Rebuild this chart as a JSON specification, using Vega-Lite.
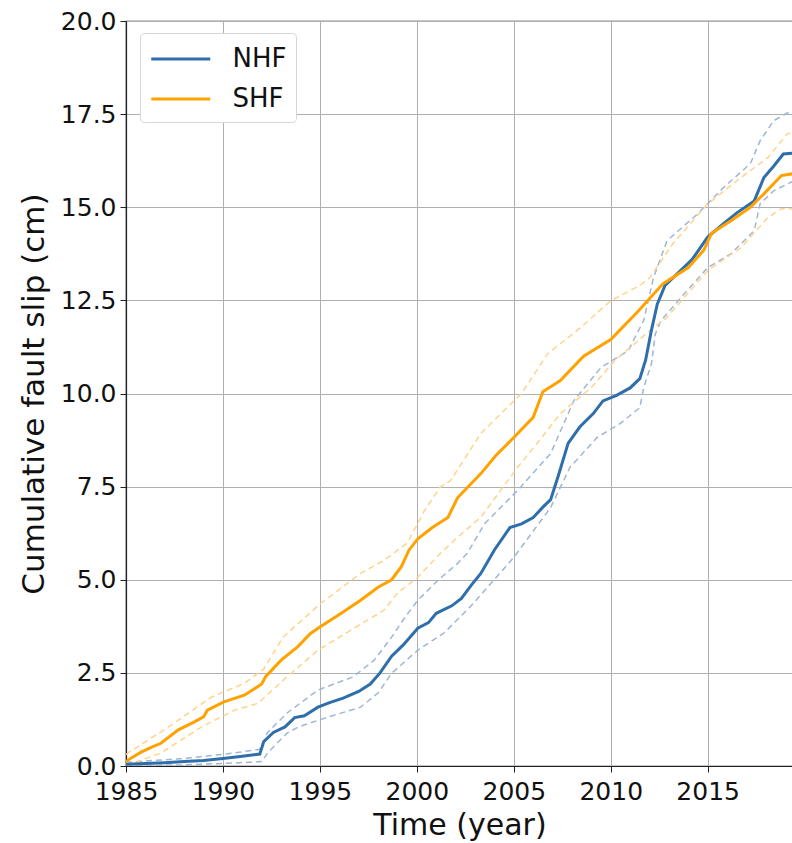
{
  "$schema": "https://vega.github.io/schema/vega-lite/v6.json",
  "width": 667,
  "height": 745,
  "autosize": {"type": "none"},
  "padding": {"left": 126, "top": 21, "right": 0, "bottom": 77},
  "background": "white",
  "config": {
    "view": {"stroke": "#222222", "strokeWidth": 1.2},
    "font": "DejaVu Sans",
    "axis": {
      "labelFont": "DejaVu Sans",
      "labelFontSize": 25,
      "labelColor": "#111111",
      "labelFlush": false,
      "labelOverlap": false,
      "titleFont": "DejaVu Sans",
      "titleFontWeight": "normal",
      "titleColor": "#111111",
      "tickColor": "#222222",
      "tickSize": 6,
      "domainColor": "#222222",
      "domainWidth": 1.2,
      "gridColor": "#b0b0b0",
      "gridWidth": 1,
      "labelPadding": 4
    },
    "legend": {
      "labelFont": "DejaVu Sans"
    }
  },
  "datasets": {
    "main": [
      {"series": "NHF", "year": 1985.0, "slip": 0.05},
      {"series": "NHF", "year": 1986.0, "slip": 0.07},
      {"series": "NHF", "year": 1987.0, "slip": 0.09},
      {"series": "NHF", "year": 1988.0, "slip": 0.12},
      {"series": "NHF", "year": 1989.0, "slip": 0.15},
      {"series": "NHF", "year": 1990.0, "slip": 0.2},
      {"series": "NHF", "year": 1991.0, "slip": 0.26},
      {"series": "NHF", "year": 1991.9, "slip": 0.32},
      {"series": "NHF", "year": 1992.1, "slip": 0.65},
      {"series": "NHF", "year": 1992.6, "slip": 0.9},
      {"series": "NHF", "year": 1993.2, "slip": 1.05},
      {"series": "NHF", "year": 1993.7, "slip": 1.3},
      {"series": "NHF", "year": 1994.2, "slip": 1.35},
      {"series": "NHF", "year": 1994.9, "slip": 1.58},
      {"series": "NHF", "year": 1995.5, "slip": 1.7},
      {"series": "NHF", "year": 1996.2, "slip": 1.82},
      {"series": "NHF", "year": 1997.0, "slip": 2.0},
      {"series": "NHF", "year": 1997.6, "slip": 2.2},
      {"series": "NHF", "year": 1998.1, "slip": 2.5},
      {"series": "NHF", "year": 1998.7, "slip": 2.95},
      {"series": "NHF", "year": 1999.3, "slip": 3.25},
      {"series": "NHF", "year": 2000.05, "slip": 3.7},
      {"series": "NHF", "year": 2000.6, "slip": 3.85},
      {"series": "NHF", "year": 2001.0, "slip": 4.1},
      {"series": "NHF", "year": 2001.8, "slip": 4.3},
      {"series": "NHF", "year": 2002.3, "slip": 4.5},
      {"series": "NHF", "year": 2002.8, "slip": 4.85},
      {"series": "NHF", "year": 2003.3, "slip": 5.17},
      {"series": "NHF", "year": 2004.0, "slip": 5.8},
      {"series": "NHF", "year": 2004.8, "slip": 6.4},
      {"series": "NHF", "year": 2005.4, "slip": 6.5},
      {"series": "NHF", "year": 2006.0, "slip": 6.67},
      {"series": "NHF", "year": 2006.5, "slip": 6.95},
      {"series": "NHF", "year": 2006.9, "slip": 7.15},
      {"series": "NHF", "year": 2007.3, "slip": 7.8},
      {"series": "NHF", "year": 2007.8, "slip": 8.66},
      {"series": "NHF", "year": 2008.4, "slip": 9.1},
      {"series": "NHF", "year": 2009.1, "slip": 9.46},
      {"series": "NHF", "year": 2009.6, "slip": 9.8},
      {"series": "NHF", "year": 2010.3, "slip": 9.95},
      {"series": "NHF", "year": 2011.0, "slip": 10.15},
      {"series": "NHF", "year": 2011.5, "slip": 10.4},
      {"series": "NHF", "year": 2011.8, "slip": 10.9},
      {"series": "NHF", "year": 2012.1, "slip": 11.7},
      {"series": "NHF", "year": 2012.4, "slip": 12.4},
      {"series": "NHF", "year": 2012.8, "slip": 12.9},
      {"series": "NHF", "year": 2013.6, "slip": 13.3},
      {"series": "NHF", "year": 2014.2, "slip": 13.6},
      {"series": "NHF", "year": 2015.0, "slip": 14.2},
      {"series": "NHF", "year": 2015.8, "slip": 14.55},
      {"series": "NHF", "year": 2016.5, "slip": 14.85},
      {"series": "NHF", "year": 2017.4, "slip": 15.17},
      {"series": "NHF", "year": 2017.9, "slip": 15.8},
      {"series": "NHF", "year": 2018.4, "slip": 16.1},
      {"series": "NHF", "year": 2018.9, "slip": 16.43},
      {"series": "NHF", "year": 2019.4, "slip": 16.45},
      {"series": "SHF", "year": 1985.0, "slip": 0.1},
      {"series": "SHF", "year": 1985.1, "slip": 0.16},
      {"series": "SHF", "year": 1985.8, "slip": 0.38},
      {"series": "SHF", "year": 1986.3, "slip": 0.5},
      {"series": "SHF", "year": 1986.8, "slip": 0.61},
      {"series": "SHF", "year": 1987.7, "slip": 0.97},
      {"series": "SHF", "year": 1988.4, "slip": 1.15},
      {"series": "SHF", "year": 1989.0, "slip": 1.32},
      {"series": "SHF", "year": 1989.2, "slip": 1.5},
      {"series": "SHF", "year": 1990.05, "slip": 1.72},
      {"series": "SHF", "year": 1991.1, "slip": 1.9},
      {"series": "SHF", "year": 1991.7, "slip": 2.1},
      {"series": "SHF", "year": 1992.0, "slip": 2.2},
      {"series": "SHF", "year": 1992.2, "slip": 2.4},
      {"series": "SHF", "year": 1993.0, "slip": 2.84},
      {"series": "SHF", "year": 1993.85, "slip": 3.2},
      {"series": "SHF", "year": 1994.5, "slip": 3.55},
      {"series": "SHF", "year": 1995.0, "slip": 3.73},
      {"series": "SHF", "year": 1996.1, "slip": 4.1},
      {"series": "SHF", "year": 1997.1, "slip": 4.45},
      {"series": "SHF", "year": 1998.0, "slip": 4.8},
      {"series": "SHF", "year": 1998.7, "slip": 5.0},
      {"series": "SHF", "year": 1999.2, "slip": 5.35},
      {"series": "SHF", "year": 1999.6, "slip": 5.8},
      {"series": "SHF", "year": 2000.05, "slip": 6.1},
      {"series": "SHF", "year": 2000.8, "slip": 6.4},
      {"series": "SHF", "year": 2001.6, "slip": 6.67},
      {"series": "SHF", "year": 2002.1, "slip": 7.2},
      {"series": "SHF", "year": 2003.3, "slip": 7.85},
      {"series": "SHF", "year": 2004.1, "slip": 8.35},
      {"series": "SHF", "year": 2005.0, "slip": 8.82},
      {"series": "SHF", "year": 2006.0, "slip": 9.36},
      {"series": "SHF", "year": 2006.5, "slip": 10.05},
      {"series": "SHF", "year": 2007.4, "slip": 10.35},
      {"series": "SHF", "year": 2008.6, "slip": 11.0},
      {"series": "SHF", "year": 2010.0, "slip": 11.45},
      {"series": "SHF", "year": 2011.4, "slip": 12.2},
      {"series": "SHF", "year": 2012.7, "slip": 12.95},
      {"series": "SHF", "year": 2014.0, "slip": 13.38},
      {"series": "SHF", "year": 2014.8, "slip": 13.85},
      {"series": "SHF", "year": 2015.2, "slip": 14.3},
      {"series": "SHF", "year": 2016.2, "slip": 14.64},
      {"series": "SHF", "year": 2017.2, "slip": 15.0},
      {"series": "SHF", "year": 2017.9, "slip": 15.36},
      {"series": "SHF", "year": 2018.8, "slip": 15.85},
      {"series": "SHF", "year": 2019.4, "slip": 15.9}
    ],
    "bounds": [
      {"series": "NHF", "bound": "upper", "year": 1985.0, "slip": 0.1},
      {"series": "NHF", "bound": "upper", "year": 1988.0, "slip": 0.2},
      {"series": "NHF", "bound": "upper", "year": 1990.6, "slip": 0.35},
      {"series": "NHF", "bound": "upper", "year": 1991.9, "slip": 0.45},
      {"series": "NHF", "bound": "upper", "year": 1992.3, "slip": 0.9},
      {"series": "NHF", "bound": "upper", "year": 1993.3, "slip": 1.42},
      {"series": "NHF", "bound": "upper", "year": 1994.9, "slip": 2.04},
      {"series": "NHF", "bound": "upper", "year": 1996.7, "slip": 2.39},
      {"series": "NHF", "bound": "upper", "year": 1997.8, "slip": 2.84},
      {"series": "NHF", "bound": "upper", "year": 1998.7, "slip": 3.46},
      {"series": "NHF", "bound": "upper", "year": 1999.4, "slip": 4.0},
      {"series": "NHF", "bound": "upper", "year": 2000.05, "slip": 4.45},
      {"series": "NHF", "bound": "upper", "year": 2001.1, "slip": 4.99},
      {"series": "NHF", "bound": "upper", "year": 2002.1, "slip": 5.44},
      {"series": "NHF", "bound": "upper", "year": 2002.6, "slip": 5.71},
      {"series": "NHF", "bound": "upper", "year": 2003.5, "slip": 6.51},
      {"series": "NHF", "bound": "upper", "year": 2005.2, "slip": 7.4},
      {"series": "NHF", "bound": "upper", "year": 2006.9, "slip": 8.39},
      {"series": "NHF", "bound": "upper", "year": 2008.1, "slip": 9.81},
      {"series": "NHF", "bound": "upper", "year": 2009.5, "slip": 10.7},
      {"series": "NHF", "bound": "upper", "year": 2010.9, "slip": 11.15},
      {"series": "NHF", "bound": "upper", "year": 2011.7, "slip": 11.96},
      {"series": "NHF", "bound": "upper", "year": 2012.2, "slip": 13.1},
      {"series": "NHF", "bound": "upper", "year": 2012.9, "slip": 14.1},
      {"series": "NHF", "bound": "upper", "year": 2014.5, "slip": 14.83},
      {"series": "NHF", "bound": "upper", "year": 2015.8, "slip": 15.52},
      {"series": "NHF", "bound": "upper", "year": 2017.2, "slip": 16.17},
      {"series": "NHF", "bound": "upper", "year": 2017.7, "slip": 16.78},
      {"series": "NHF", "bound": "upper", "year": 2018.4, "slip": 17.32},
      {"series": "NHF", "bound": "upper", "year": 2019.1, "slip": 17.53},
      {"series": "NHF", "bound": "upper", "year": 2019.4, "slip": 17.55},
      {"series": "NHF", "bound": "lower", "year": 1985.0, "slip": 0.0},
      {"series": "NHF", "bound": "lower", "year": 1988.0, "slip": 0.03},
      {"series": "NHF", "bound": "lower", "year": 1990.6, "slip": 0.08},
      {"series": "NHF", "bound": "lower", "year": 1992.0, "slip": 0.12},
      {"series": "NHF", "bound": "lower", "year": 1992.3, "slip": 0.35},
      {"series": "NHF", "bound": "lower", "year": 1993.3, "slip": 0.88},
      {"series": "NHF", "bound": "lower", "year": 1993.9, "slip": 1.05},
      {"series": "NHF", "bound": "lower", "year": 1995.4, "slip": 1.31},
      {"series": "NHF", "bound": "lower", "year": 1997.1, "slip": 1.58},
      {"series": "NHF", "bound": "lower", "year": 1998.0, "slip": 1.96},
      {"series": "NHF", "bound": "lower", "year": 1998.7, "slip": 2.49},
      {"series": "NHF", "bound": "lower", "year": 2000.05, "slip": 3.11},
      {"series": "NHF", "bound": "lower", "year": 2001.4, "slip": 3.57},
      {"series": "NHF", "bound": "lower", "year": 2002.8, "slip": 4.3},
      {"series": "NHF", "bound": "lower", "year": 2005.0, "slip": 5.6},
      {"series": "NHF", "bound": "lower", "year": 2006.9, "slip": 6.94},
      {"series": "NHF", "bound": "lower", "year": 2007.9, "slip": 8.02},
      {"series": "NHF", "bound": "lower", "year": 2009.3, "slip": 8.82},
      {"series": "NHF", "bound": "lower", "year": 2010.5, "slip": 9.2},
      {"series": "NHF", "bound": "lower", "year": 2011.5, "slip": 9.62},
      {"series": "NHF", "bound": "lower", "year": 2011.7, "slip": 10.16},
      {"series": "NHF", "bound": "lower", "year": 2012.1, "slip": 10.8},
      {"series": "NHF", "bound": "lower", "year": 2012.3, "slip": 11.6},
      {"series": "NHF", "bound": "lower", "year": 2012.6, "slip": 11.96},
      {"series": "NHF", "bound": "lower", "year": 2013.8, "slip": 12.68},
      {"series": "NHF", "bound": "lower", "year": 2015.0, "slip": 13.38},
      {"series": "NHF", "bound": "lower", "year": 2016.2, "slip": 13.75},
      {"series": "NHF", "bound": "lower", "year": 2017.4, "slip": 14.37},
      {"series": "NHF", "bound": "lower", "year": 2017.7, "slip": 15.09},
      {"series": "NHF", "bound": "lower", "year": 2018.4, "slip": 15.44},
      {"series": "NHF", "bound": "lower", "year": 2019.4, "slip": 15.7},
      {"series": "SHF", "bound": "upper", "year": 1985.0, "slip": 0.3},
      {"series": "SHF", "bound": "upper", "year": 1985.1, "slip": 0.35},
      {"series": "SHF", "bound": "upper", "year": 1987.2, "slip": 1.05},
      {"series": "SHF", "bound": "upper", "year": 1989.4, "slip": 1.85},
      {"series": "SHF", "bound": "upper", "year": 1991.1, "slip": 2.22},
      {"series": "SHF", "bound": "upper", "year": 1992.1, "slip": 2.6},
      {"series": "SHF", "bound": "upper", "year": 1993.1, "slip": 3.46},
      {"series": "SHF", "bound": "upper", "year": 1995.05, "slip": 4.37},
      {"series": "SHF", "bound": "upper", "year": 1997.1, "slip": 5.17},
      {"series": "SHF", "bound": "upper", "year": 1998.3, "slip": 5.52},
      {"series": "SHF", "bound": "upper", "year": 1999.5, "slip": 5.98},
      {"series": "SHF", "bound": "upper", "year": 2000.4, "slip": 6.86},
      {"series": "SHF", "bound": "upper", "year": 2001.2, "slip": 7.48},
      {"series": "SHF", "bound": "upper", "year": 2001.75, "slip": 7.67},
      {"series": "SHF", "bound": "upper", "year": 2003.3, "slip": 8.93},
      {"series": "SHF", "bound": "upper", "year": 2005.4, "slip": 10.0},
      {"series": "SHF", "bound": "upper", "year": 2006.75, "slip": 11.07},
      {"series": "SHF", "bound": "upper", "year": 2008.45, "slip": 11.77},
      {"series": "SHF", "bound": "upper", "year": 2010.0, "slip": 12.49},
      {"series": "SHF", "bound": "upper", "year": 2011.5, "slip": 12.9},
      {"series": "SHF", "bound": "upper", "year": 2012.0, "slip": 13.1},
      {"series": "SHF", "bound": "upper", "year": 2013.2, "slip": 14.02},
      {"series": "SHF", "bound": "upper", "year": 2015.0, "slip": 15.09},
      {"series": "SHF", "bound": "upper", "year": 2016.7, "slip": 15.79},
      {"series": "SHF", "bound": "upper", "year": 2018.1, "slip": 16.33},
      {"series": "SHF", "bound": "upper", "year": 2019.1, "slip": 16.97},
      {"series": "SHF", "bound": "upper", "year": 2019.4, "slip": 17.0},
      {"series": "SHF", "bound": "lower", "year": 1985.0, "slip": 0.0},
      {"series": "SHF", "bound": "lower", "year": 1985.4, "slip": 0.08},
      {"series": "SHF", "bound": "lower", "year": 1986.8, "slip": 0.35},
      {"series": "SHF", "bound": "lower", "year": 1988.9, "slip": 1.05},
      {"series": "SHF", "bound": "lower", "year": 1990.6, "slip": 1.5},
      {"series": "SHF", "bound": "lower", "year": 1991.8, "slip": 1.68},
      {"series": "SHF", "bound": "lower", "year": 1993.3, "slip": 2.39},
      {"series": "SHF", "bound": "lower", "year": 1994.9, "slip": 3.11},
      {"series": "SHF", "bound": "lower", "year": 1996.6, "slip": 3.65},
      {"series": "SHF", "bound": "lower", "year": 1998.3, "slip": 4.18},
      {"series": "SHF", "bound": "lower", "year": 1999.0, "slip": 4.64},
      {"series": "SHF", "bound": "lower", "year": 2000.05, "slip": 5.07},
      {"series": "SHF", "bound": "lower", "year": 2001.2, "slip": 5.7},
      {"series": "SHF", "bound": "lower", "year": 2002.1, "slip": 6.14},
      {"series": "SHF", "bound": "lower", "year": 2003.3, "slip": 6.68},
      {"series": "SHF", "bound": "lower", "year": 2005.2, "slip": 8.02},
      {"series": "SHF", "bound": "lower", "year": 2006.2, "slip": 8.66},
      {"series": "SHF", "bound": "lower", "year": 2007.4, "slip": 9.46},
      {"series": "SHF", "bound": "lower", "year": 2009.0, "slip": 10.16},
      {"series": "SHF", "bound": "lower", "year": 2010.2, "slip": 10.88},
      {"series": "SHF", "bound": "lower", "year": 2012.2, "slip": 11.77},
      {"series": "SHF", "bound": "lower", "year": 2012.9, "slip": 12.04},
      {"series": "SHF", "bound": "lower", "year": 2015.0, "slip": 13.3},
      {"series": "SHF", "bound": "lower", "year": 2016.7, "slip": 13.91},
      {"series": "SHF", "bound": "lower", "year": 2018.1, "slip": 14.72},
      {"series": "SHF", "bound": "lower", "year": 2018.8, "slip": 14.96},
      {"series": "SHF", "bound": "lower", "year": 2019.4, "slip": 14.96}
    ]
  },
  "encoding": {
    "x": {
      "field": "year",
      "type": "quantitative",
      "scale": {"domain": [1985, 2019.4], "nice": false, "zero": false},
      "axis": {
        "values": [1985, 1990, 1995, 2000, 2005, 2010, 2015],
        "format": "d",
        "title": "Time (year)",
        "titleFontSize": 30,
        "titlePadding": 6,
        "labelPadding": 7
      }
    },
    "y": {
      "field": "slip",
      "type": "quantitative",
      "scale": {"domain": [0, 20], "nice": false},
      "axis": {
        "values": [0, 2.5, 5, 7.5, 10, 12.5, 15, 17.5, 20],
        "format": ".1f",
        "title": "Cumulative fault slip (cm)",
        "titleFontSize": 31,
        "titlePadding": 10
      }
    }
  },
  "layer": [
    {
      "data": {"name": "bounds"},
      "mark": {"type": "line", "strokeWidth": 1.5, "strokeDash": [6, 4], "clip": true},
      "encoding": {
        "color": {
          "field": "series",
          "type": "nominal",
          "scale": {"domain": ["NHF", "SHF"], "range": ["#9fb6d4", "#ffd38c"]},
          "legend": null
        },
        "detail": {"field": "bound", "type": "nominal"}
      }
    },
    {
      "data": {"name": "main"},
      "mark": {"type": "line", "strokeWidth": 3, "clip": true},
      "encoding": {
        "color": {
          "field": "series",
          "type": "nominal",
          "scale": {"domain": ["NHF", "SHF"], "range": ["#2e6fab", "#ffa200"]},
          "legend": {
            "title": null,
            "orient": "none",
            "legendX": 14,
            "legendY": 12,
            "symbolType": "M-1,0H3",
            "symbolSize": 870,
            "symbolStrokeWidth": 3,
            "labelFontSize": 26,
            "labelColor": "#111111",
            "labelOffset": 50,
            "rowPadding": 10,
            "padding": 9.5,
            "strokeColor": "#d6d6d6",
            "fillColor": "white",
            "cornerRadius": 4
          }
        }
      }
    }
  ],
  "resolve": {"scale": {"color": "independent"}}
}
